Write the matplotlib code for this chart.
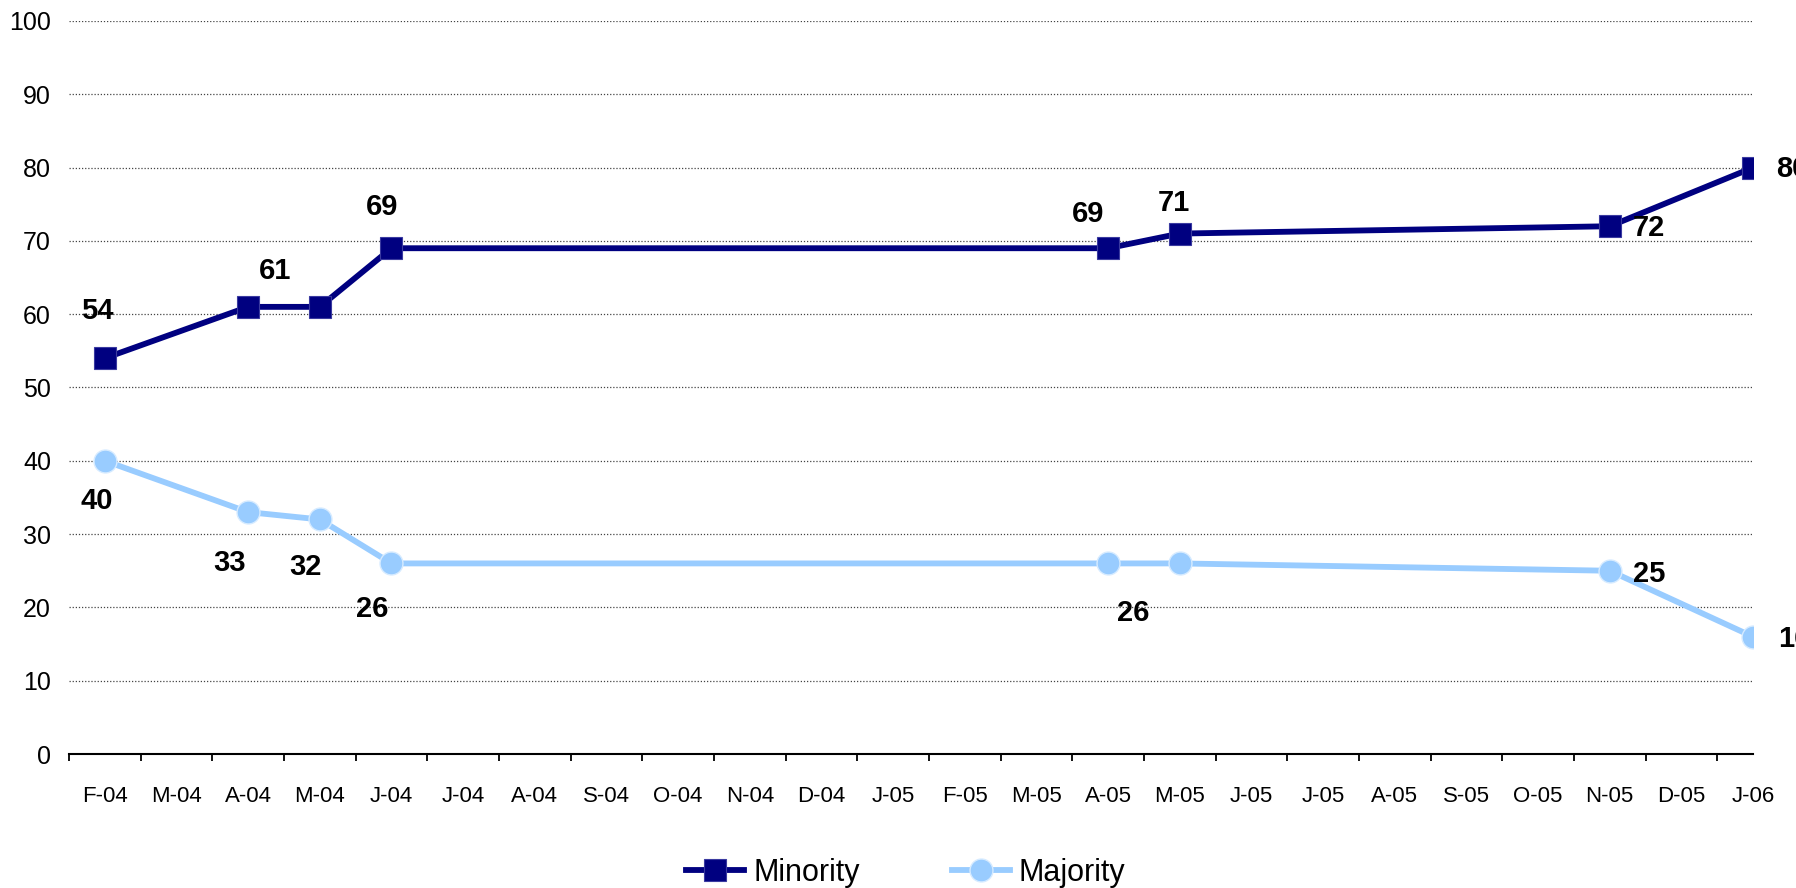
import matplotlib
matplotlib.use("Agg")
import matplotlib.pyplot as plt
import numpy as np

plt.rcParams['font.family'] = ['Liberation Sans', 'DejaVu Sans']

categories = ["F-04", "M-04", "A-04", "M-04", "J-04", "J-04", "A-04", "S-04", "O-04",
              "N-04", "D-04", "J-05", "F-05", "M-05", "A-05", "M-05", "J-05", "J-05",
              "A-05", "S-05", "O-05", "N-05", "D-05", "J-06"]
point_idx = [0, 2, 3, 4, 14, 15, 21, 23]
minority = [54, 61, 61, 69, 69, 71, 72, 80]
majority = [40, 33, 32, 26, 26, 26, 25, 16]

# label placement (index into point list, offset px dx, dy (down +), ha)
min_labels = [(0, -8, -47, 'center'), (1, 27, -36, 'center'), (3, -9, -41, 'center'),
              (4, -20, -34, 'center'), (5, -6, -31, 'center'), (6, 23, 2, 'left'),
              (7, 23, 1, 'left')]
maj_labels = [(0, -8, 40, 'center'), (1, -19, 51, 'center'), (2, -14, 48, 'center'),
              (3, -19, 46, 'center'), (4, 25, 50, 'center'), (6, 23, 3, 'left'),
              (7, 25, 2, 'left')]

W, H, DPI = 1796, 888, 100
fig = plt.figure(figsize=(W / DPI, H / DPI), dpi=DPI)
ax = fig.add_axes([69 / W, 1 - 754 / H, (1753 - 69) / W, (754 - 21) / H])

navy = '#000080'
light = '#99ccff'

ax.plot(point_idx, minority, color=navy, lw=4.2, marker='s', markersize=16,
        markerfacecolor=navy, markeredgecolor='#3a3aa0', markeredgewidth=0.8,
        label='Minority', zorder=3)
ax.plot(point_idx, majority, color=light, lw=4.2, marker='o', markersize=16.5,
        markerfacecolor=light, markeredgecolor='#d6ebff', markeredgewidth=1.0,
        label='Majority', zorder=3)

px2pt = 72 / DPI
for i, dx, dy, ha in min_labels:
    ax.annotate(str(minority[i]), (point_idx[i], minority[i]),
                xytext=(dx * px2pt, -dy * px2pt), textcoords='offset points',
                ha=ha, va='center', fontsize=21, fontweight='bold', color='black',
                annotation_clip=False, zorder=4)
for i, dx, dy, ha in maj_labels:
    ax.annotate(str(majority[i]), (point_idx[i], majority[i]),
                xytext=(dx * px2pt, -dy * px2pt), textcoords='offset points',
                ha=ha, va='center', fontsize=21, fontweight='bold', color='black',
                annotation_clip=False, zorder=4)

ax.set_yticks(np.arange(0, 101, 10))
ax.yaxis.grid(True, linestyle=(0, (1, 1.5)), color='#444444', lw=0.9)
ax.set_axisbelow(True)

ax.set_xticks(np.arange(len(categories)))
ax.set_xticklabels(categories, fontsize=16)
ax.set_xticks(np.arange(-0.5, len(categories), 1), minor=True)
ax.tick_params(axis='x', which='major', length=0, pad=23)
ax.tick_params(axis='x', which='minor', length=5, width=1.3, direction='out', color='black')
ax.tick_params(axis='y', length=0, pad=13, labelsize=18)

ax.set_xlim(-0.5, len(categories) - 1)
ax.set_ylim(0, 100)

for s in ['top', 'right', 'left']:
    ax.spines[s].set_visible(False)
ax.spines['bottom'].set_linewidth(1.5)
ax.spines['bottom'].set_color('black')

fig.legend(loc='center', bbox_to_anchor=(906 / W, 1 - 873 / H), ncol=2, frameon=False,
           fontsize=22, handlelength=1.9, handletextpad=0.3, columnspacing=3.0)

fig.savefig('out.png', dpi=DPI, facecolor='white')
